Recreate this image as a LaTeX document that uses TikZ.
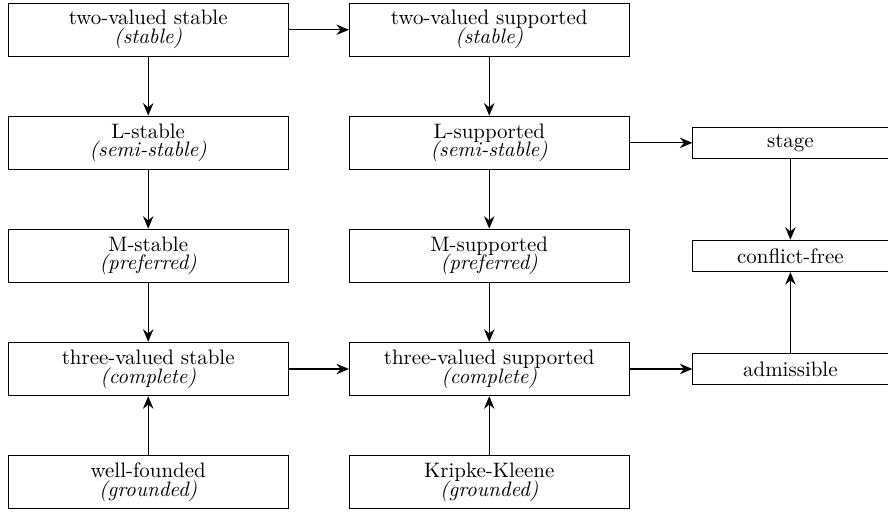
\documentclass[tikz,border=0pt]{standalone}
\usepackage{tikz}
\usetikzlibrary{arrows.meta}
\tikzset{
    semantics/.style={draw, align=center, minimum width=4.7cm, minimum height=0.9cm, inner sep=2pt},
    argsem/.style={draw, align=center, minimum width=3.28cm, minimum height=0.53cm, inner sep=2pt},
    arrow/.style={-{Stealth[length=6pt,width=5pt,inset=2pt]}, semithick}
}
\newcommand{\alias}[1]{\textit{(#1)}}

\begin{document}
\begin{tikzpicture}[scale=1]
    \useasboundingbox (0, 0.5) rectangle (14.92, -8.1);

    % Stable column
    \node[semantics] (tvstable) at (2.49, 0) {two-valued stable\\[-3pt]\alias{stable}};
    \node[semantics] (lstable) at (2.49, -1.9) {L-stable\\[-3pt]\alias{semi-stable}};
    \node[semantics] (mstable) at (2.49, -3.8) {M-stable\\[-3pt]\alias{preferred}};
    \node[semantics] (thvstable) at (2.49, -5.7) {three-valued stable\\[-3pt]\alias{complete}};
    \node[semantics] (wellfounded) at (2.49, -7.6) {well-founded\\[-3pt]\alias{grounded}};

    % Supported column
    \node[semantics] (tvsupp) at (8.22, 0) {two-valued supported\\[-3pt]\alias{stable}};
    \node[semantics] (lsupp) at (8.22, -1.9) {L-supported\\[-3pt]\alias{semi-stable}};
    \node[semantics] (msupp) at (8.22, -3.8) {M-supported\\[-3pt]\alias{preferred}};
    \node[semantics] (thvsupp) at (8.22, -5.7) {three-valued supported\\[-3pt]\alias{complete}};
    \node[semantics] (kripke) at (8.22, -7.6) {Kripke-Kleene\\[-3pt]\alias{grounded}};

    % Argumentation column
    \node[argsem] (stage) at (13.28, -1.9) {stage};
    \node[argsem] (cfree) at (13.28, -3.8) {conflict-free};
    \node[argsem] (admissible) at (13.28, -5.7) {admissible};

    % Arrows down the columns
    \draw[arrow] (tvstable) -- (lstable);
    \draw[arrow] (lstable) -- (mstable);
    \draw[arrow] (mstable) -- (thvstable);
    \draw[arrow] (wellfounded) -- (thvstable);
    \draw[arrow] (tvsupp) -- (lsupp);
    \draw[arrow] (lsupp) -- (msupp);
    \draw[arrow] (msupp) -- (thvsupp);
    \draw[arrow] (kripke) -- (thvsupp);
    \draw[arrow] (stage) -- (cfree);
    \draw[arrow] (admissible) -- (cfree);

    % Arrows across
    \draw[arrow] (tvstable) -- (tvsupp);
    \draw[arrow] (thvstable) -- (thvsupp);
    \draw[arrow] (lsupp) -- (stage);
    \draw[arrow] (thvsupp) -- (admissible);
\end{tikzpicture}
\end{document}
